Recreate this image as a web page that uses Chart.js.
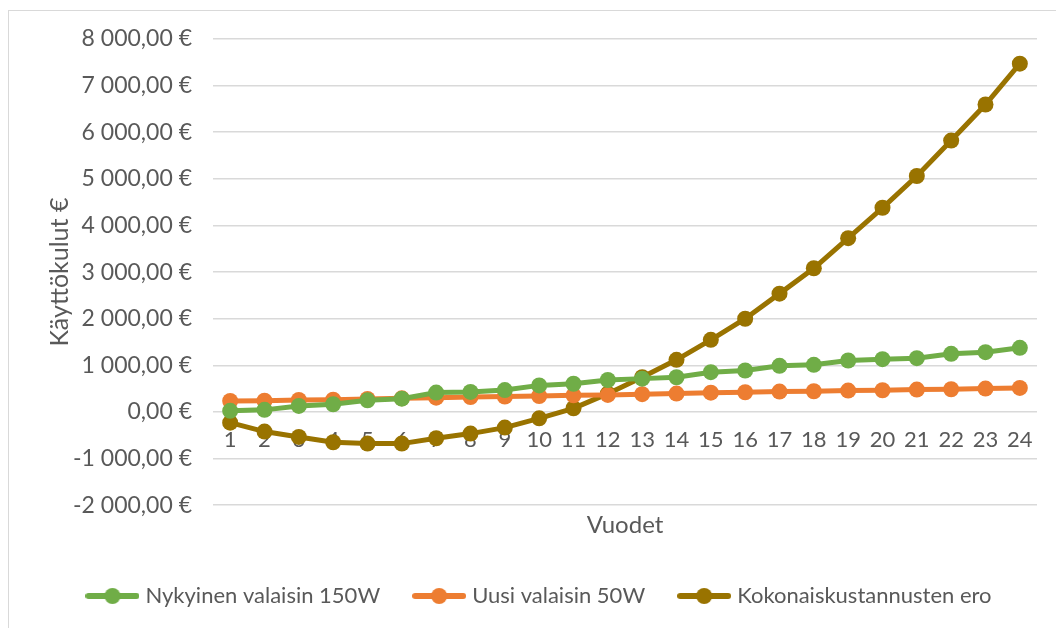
<!DOCTYPE html>
<html>
<head>
<meta charset="utf-8">
<script src="https://cdn.jsdelivr.net/npm/chart.js@4.4.1/dist/chart.umd.min.js"></script>
<style>
  html, body { margin: 0; padding: 0; background: #fff; overflow: hidden; }
  .frame { position: absolute; left: 8px; top: 10px; width: 1200px; height: 800px; border: 1px solid #d9d9d9; }
  .wrap { position: absolute; left: 0; top: 0; width: 1056px; height: 628px; }
</style>
</head>
<body>
<div class="frame"></div>
<div class="wrap"><canvas id="chart" width="1056" height="628"></canvas></div>
<script>
const years = ['1', '2', '3', '4', '5', '6', '7', '8', '9', '10', '11', '12',
    '13', '14', '15', '16', '17', '18', '19', '20', '21', '22', '23', '24'];

const nykyinen = [25, 45, 130, 165, 250, 285, 415, 430, 470, 570, 605, 685,
    715, 745, 853, 889, 989, 1011, 1104, 1133, 1154, 1247, 1283, 1376];

const uusi = [235, 243, 257, 264, 279, 293, 307, 321, 329, 343, 357, 366,
    381, 395, 413, 423, 437, 444, 459, 466, 480, 487, 502, 516];

const ero = [-229, -421, -536, -650, -679, -679, -564, -464, -336, -136, 79, 393,
    745, 1118, 1548, 2000, 2538, 3082, 3728, 4380, 5061, 5821, 6595, 7470];

const seriesNames = ['Nykyinen valaisin 150W', 'Uusi valaisin 50W', 'Kokonaiskustannusten ero'];
const seriesColors = ['#70ad47', '#ed7d31', '#997300'];

const textColor = '#595959';
const fontFamily = 'Lato, "Open Sans", sans-serif';

// legend marker: line with a dot, like Excel
function legendMarker(color) {
    const c = document.createElement('canvas');
    c.width = 54;
    c.height = 18;
    const g = c.getContext('2d');
    g.strokeStyle = color;
    g.lineWidth = 6;
    g.lineCap = 'round';
    g.beginPath();
    g.moveTo(3, 9);
    g.lineTo(51, 9);
    g.stroke();
    g.fillStyle = color;
    g.beginPath();
    g.arc(27, 9, 8, 0, Math.PI * 2);
    g.fill();
    return c;
}
const markers = seriesColors.map(legendMarker);

function euro(v) {
    const neg = v < 0;
    const s = Math.abs(v).toFixed(0).replace(/\B(?=(\d{3})+(?!\d))/g, ' ');
    return (neg ? '-' : '') + s + ',00 €';
}

function makeDataset(i, data) {
    return {
        label: seriesNames[i],
        data: data,
        borderColor: seriesColors[i],
        backgroundColor: seriesColors[i],
        pointBackgroundColor: seriesColors[i],
        pointBorderColor: seriesColors[i],
        borderWidth: 5,
        pointRadius: 8,
        pointBorderWidth: 0,
        tension: 0,
        fill: false
    };
}

const ctx = document.getElementById('chart').getContext('2d');
new Chart(ctx, {
    type: 'line',
    data: {
        labels: years,
        datasets: [
            makeDataset(0, nykyinen),
            makeDataset(1, uusi),
            makeDataset(2, ero)
        ]
    },
    options: {
        responsive: false,
        animation: false,
        layout: { padding: { left: 45, right: 19, top: 39, bottom: 11 } },
        plugins: {
            tooltip: { enabled: false },
            legend: {
                position: 'bottom',
                labels: {
                    color: textColor,
                    font: { family: fontFamily, size: 22 },
                    usePointStyle: true,
                    pointStyleWidth: 44,
                    padding: 37,
                    generateLabels: chart => {
                        const items = Chart.defaults.plugins.legend.labels.generateLabels(chart);
                        items.forEach((it, i) => { it.pointStyle = markers[i]; });
                        return items;
                    }
                }
            }
        },
        scales: {
            x: {
                type: 'category',
                position: { y: 0 },
                offset: true,
                grid: { display: false },
                border: { display: false },
                ticks: { color: textColor, font: { family: fontFamily, size: 22 }, padding: 7, maxRotation: 0, autoSkip: false }
            },
            x2: {
                type: 'category',
                labels: years,
                position: 'bottom',
                grid: { display: false },
                border: { display: false },
                ticks: { display: false },
                title: { display: true, text: 'Vuodet', color: textColor, font: { family: fontFamily, size: 24 }, padding: { top: -2, bottom: 8 } }
            },
            y: {
                min: -2000,
                max: 8000,
                ticks: {
                    stepSize: 1000,
                    color: textColor,
                    font: { family: fontFamily, size: 23 },
                    padding: 21,
                    callback: v => euro(v)
                },
                grid: { color: '#d9d9d9', lineWidth: 1.5, drawTicks: false },
                border: { display: false },
                title: { display: true, text: 'Käyttökulut €', color: textColor, font: { family: fontFamily, size: 25 }, padding: 0 },
                afterFit: scale => { scale.width = 168; }
            }
        }
    }
});
</script>
</body>
</html>
